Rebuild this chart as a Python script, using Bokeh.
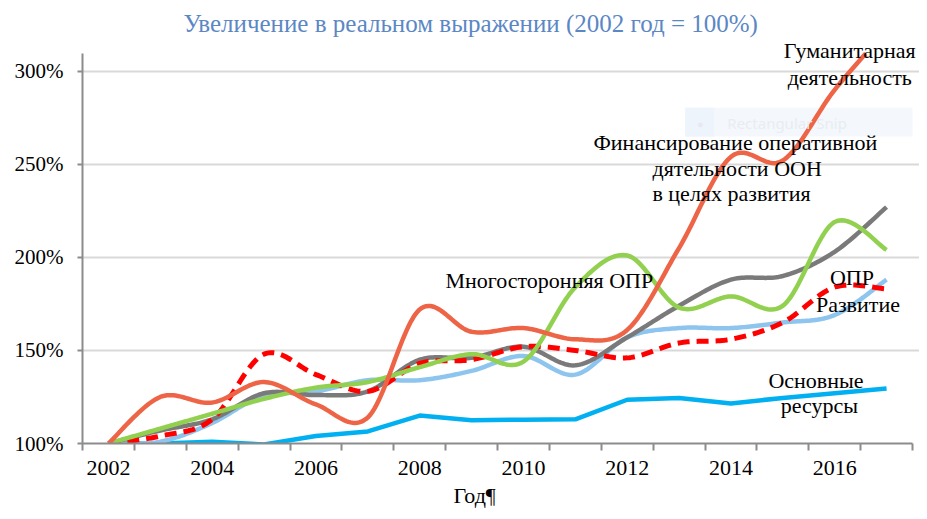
import numpy as np
from bokeh.plotting import figure
from bokeh.models import (Range1d, FixedTicker, PrintfTickFormatter, Label,
                          BoxAnnotation, Title)
from bokeh.embed import file_html
from bokeh.resources import INLINE

# ---------------- data ----------------
years = list(range(2002, 2018))
humanitarian = [100, 125, 122, 133, 121, 114, 172, 160, 162, 156, 161, 205, 254, 252, 290, 322]
oper_dev = [100, 107, 113, 127, 126, 128, 145, 146, 152, 142, 157, 174, 188, 190, 203, 227]
multilateral = [100, 108, 116, 124, 130, 133, 141, 148, 144, 184, 201, 173, 179, 174, 219, 204]
development = [100, 101, 111, 126, 128, 134, 134, 139, 147, 137, 157, 162, 162, 165, 169, 188]
oda = [100, 104, 113, 148, 137, 128, 143, 145, 152, 150, 146, 154, 156, 165, 184, 183]
core = [100, 100, 101, 99.5, 104, 106.5, 115, 112.5, 112.8, 113, 123.5, 124.5, 121.5, 124.5, 127, 129.5]

y_ticks = [100, 150, 200, 250, 300]
x_label_years = [2002, 2004, 2006, 2008, 2010, 2012, 2014, 2016]

Y_MIN, Y_MAX = 100, 309.5          # value-axis extent (plot area of the original chart)
X_MIN, X_MAX = 2001.5, 2017.5      # category-axis extent
FONT = "Liberation Serif"


def smooth(xs, ys, n=24):
    """Excel-like smoothed line: cubic Bezier through the points (Catmull-Rom control points)."""
    pts = np.column_stack([np.asarray(xs, float), np.asarray(ys, float)])
    m = len(pts)
    out = []
    for i in range(m - 1):
        p0 = pts[i - 1] if i > 0 else pts[i]
        p1 = pts[i]
        p2 = pts[i + 1]
        p3 = pts[i + 2] if i + 2 < m else pts[i + 1]
        c1 = p1 + (p2 - p0) / 6.0
        c2 = p2 - (p3 - p1) / 6.0
        t = np.linspace(0, 1, n, endpoint=(i == m - 2))[:, None]
        seg = ((1 - t) ** 3) * p1 + 3 * ((1 - t) ** 2) * t * c1 + 3 * (1 - t) * t ** 2 * c2 + t ** 3 * p2
        out.append(seg)
    arr = np.vstack(out)
    return arr[:, 0], arr[:, 1]


def clip_top(xs, ys, top):
    """Cut the drawn path at the top of the value axis (like the original plot area)."""
    ox, oy = [], []
    for i in range(len(xs)):
        if i > 0:
            y0, y1 = ys[i - 1], ys[i]
            if (y0 <= top) != (y1 <= top):
                f = (top - y0) / (y1 - y0)
                ox.append(xs[i - 1] + f * (xs[i] - xs[i - 1]))
                oy.append(top)
                if y1 > top:
                    ox.append(np.nan)
                    oy.append(np.nan)
        if ys[i] <= top:
            ox.append(xs[i])
            oy.append(ys[i])
    return np.array(ox), np.array(oy)


# the frame also covers the top and right margins, so that the labels written there are not clipped
W, H = 919, 511
LEFT, BOTTOM = 82, 68
px_per_y = 390.0 / (Y_MAX - Y_MIN)
px_per_x = 830.0 / (X_MAX - X_MIN)
y_top_view = Y_MAX + 53.0 / px_per_y
x_right_view = X_MIN + (W - LEFT) / px_per_x

p = figure(width=W, height=H, output_backend="svg", toolbar_location=None,
           x_range=Range1d(X_MIN, x_right_view), y_range=Range1d(Y_MIN, y_top_view),
           min_border_left=LEFT, min_border_right=0, min_border_top=0, min_border_bottom=BOTTOM)
p.outline_line_color = None
p.background_fill_color = "white"
p.border_fill_color = "white"

# grid
p.xgrid.visible = False
p.ygrid.ticker = FixedTicker(ticks=[t for t in y_ticks if t > 100])
p.ygrid.grid_line_color = "#d9d9d9"
p.ygrid.grid_line_width = 2

# y axis
ya = p.yaxis[0]
ya.ticker = FixedTicker(ticks=y_ticks)
ya.bounds = (Y_MIN, Y_MAX)
ya.formatter = PrintfTickFormatter(format="%d%%")
ya.axis_line_color = "#8c8c8c"
ya.axis_line_width = 2
ya.major_tick_line_color = "#8c8c8c"
ya.major_tick_line_width = 2
ya.major_tick_out = 5
ya.major_tick_in = 0
ya.minor_tick_line_color = None
ya.major_label_text_font = FONT
ya.major_label_text_font_size = "21px"
ya.major_label_text_color = "black"
ya.major_label_standoff = 14

# x axis
xa = p.xaxis[0]
xa.ticker = FixedTicker(ticks=x_label_years, minor_ticks=[y - 0.5 for y in years] + [years[-1] + 0.5])
xa.bounds = (X_MIN, X_MAX)
xa.axis_line_color = "#8c8c8c"
xa.axis_line_width = 2
xa.major_tick_out = 0
xa.major_tick_in = 0
xa.major_tick_line_color = None
xa.minor_tick_line_color = "#8c8c8c"
xa.minor_tick_line_width = 2
xa.minor_tick_out = 7
xa.minor_tick_in = 0
xa.major_label_text_font = FONT
xa.major_label_text_font_size = "22px"
xa.major_label_text_color = "black"
xa.major_label_standoff = 10

# x axis title, below the tick labels
p.add_layout(Title(text="Год¶", align="left", offset=371, text_font=FONT, text_font_size="22px",
                   text_font_style="normal", text_color="black", standoff=7), "below")

# faint "Rectangular Snip" artefact box
p.add_layout(BoxAnnotation(left=2013.12, right=X_MAX, top=280.4, bottom=264.9,
                           fill_color="#f4f8fd", fill_alpha=1, line_color=None, level="underlay"))
p.add_layout(BoxAnnotation(left=2013.12, right=2013.68, top=280.4, bottom=264.9,
                           fill_color="#eef4fc", fill_alpha=1, line_color=None, level="underlay"))
p.add_layout(Label(x=2013.41, y=272.1, text="●", text_font="Noto Sans", text_font_size="11px",
                   text_color="#e6e9ee", text_align="center", text_baseline="middle"))
p.add_layout(Label(x=2013.93, y=272.1, text="Rectangular Snip", text_font="Noto Sans",
                   text_font_size="15px", text_color="#e9ecf0", text_baseline="middle"))

# lines
p.line(np.array(years, float), np.array(core, float), line_color="#00b0f0", line_width=4.5)

for series, color, dash in [(development, "#8ec5ee", "solid"),
                            (oper_dev, "#7a7a7a", "solid"),
                            (oda, "#ff0000", "12 7"),
                            (multilateral, "#92d050", "solid"),
                            (humanitarian, "#ee6446", "solid")]:
    lx, ly = smooth(years, series)
    lx, ly = clip_top(lx, ly, Y_MAX)
    p.line(lx, ly, line_color=color, line_width=4.5 if dash == "solid" else 5, line_dash=dash,
           line_join="round")


def lab(x, y, text, align="left", size="22px", color="black", font=FONT, baseline="middle"):
    p.add_layout(Label(x=x, y=y, text=text, text_font=font, text_font_size=size,
                       text_color=color, text_align=align, text_baseline=baseline))


# title
lab(2003.446, 325.6, "Увеличение в реальном выражении (2002 год = 100%)", size="25px", color="#5b87c5")

# series labels
lab(2016.29, 311.1, "Гуманитарная", align="center")
lab(2016.29, 296.6, "деятельность", align="center")
lab(2011.35, 261.65, "Финансирование оперативной")
lab(2012.487, 247.7, "дятельности ООН")
lab(2012.487, 234.3, "в целях развития")
lab(2008.496, 187.5, "Многосторонняя ОПР")
lab(2016.333, 189.2, "ОПР", align="center")
lab(2016.448, 174.65, "Развитие", align="center")
lab(2015.639, 133.8, "Основные", align="center")
lab(2015.706, 120.4, "ресурсы", align="center")

open("out.html", "w").write(file_html(p, INLINE))
